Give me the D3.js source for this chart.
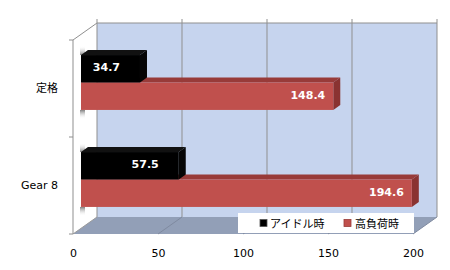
<!DOCTYPE html>
<html><head><meta charset="utf-8">
<script src="https://cdn.jsdelivr.net/npm/d3@7"></script>
<style>html,body{margin:0;padding:0;background:#fff;}svg{display:block;}</style>
</head><body>
<svg id="chart" width="450" height="270"></svg>
<script>
const categories = ["定格", "Gear 8"];
const seriesNames = ["アイドル時", "高負荷時"];
const idleValues = [34.7, 57.5];
const loadValues = [148.4, 194.6];
const xTicks = [0, 50, 100, 150, 200];

const svg = d3.select("#chart");
const fontLatin = "'DejaVu Sans', 'Noto Sans CJK JP', sans-serif";
const fontCJK = "'Noto Sans CJK JP', 'DejaVu Sans', sans-serif";

const x = d3.scaleLinear().domain([0, 200]).range([73, 413]);
const y = d3.scaleBand().domain(categories).range([40, 234]);
const D = {dx: 24, dy: -17};       // wall depth
const S = {dx: 8, dy: -6};         // bar depth position shift
const B = {dx: 7, dy: -5};         // bar thickness
const bh = y.bandwidth() * 0.283;
const ySub = d3.scaleBand().domain(seriesNames)
  .range([y.bandwidth() * 0.155, y.bandwidth() * 0.155 + 2 * bh]);
const colors = {
  "アイドル時": {front: "#000000", top: "#111111", side: "#050505"},
  "高負荷時": {front: "#c0504d", top: "#983b39", side: "#8a3331"}
};

const defs = svg.append("defs");
const gUp = defs.append("linearGradient").attr("id", "shadeUp").attr("x1", "0").attr("x2", "0").attr("y1", "0").attr("y2", "1");
gUp.append("stop").attr("offset", "0").attr("stop-color", "#ffffff").attr("stop-opacity", 0);
gUp.append("stop").attr("offset", "1").attr("stop-color", "#808080");
const gDn = defs.append("linearGradient").attr("id", "shadeDn").attr("x1", "0").attr("x2", "0").attr("y1", "0").attr("y2", "1");
gDn.append("stop").attr("offset", "0").attr("stop-color", "#808080");
gDn.append("stop").attr("offset", "1").attr("stop-color", "#ffffff").attr("stop-opacity", 0);

const [y0, y1] = y.range();
const xb = v => x(v) + D.dx;

// back wall
svg.append("rect").attr("x", xb(0)).attr("y", y0 + D.dy)
  .attr("width", xb(200) - xb(0)).attr("height", y1 - y0)
  .attr("fill", "#c6d4ee");
// floor
svg.append("polygon")
  .attr("points", [[x(0), y1], [xb(0), y1 + D.dy], [xb(200), y1 + D.dy], [x(200), y1]].join(" "))
  .attr("fill", "#929fb7");

const lineCol = "#8f8f8f";
xTicks.forEach(t => {
  svg.append("line").attr("x1", xb(t)).attr("x2", xb(t))
    .attr("y1", y0 + D.dy - 4).attr("y2", y1 + D.dy)
    .attr("stroke", lineCol).attr("stroke-width", 1);
  svg.append("line").attr("x1", xb(t)).attr("y1", y1 + D.dy)
    .attr("x2", x(t)).attr("y2", y1)
    .attr("stroke", t === 0 ? "#9a9a9a" : "#7f8aa0").attr("stroke-width", 1);
});
svg.append("line").attr("x1", xb(0)).attr("x2", xb(200)).attr("y1", y0 + D.dy).attr("y2", y0 + D.dy)
  .attr("stroke", lineCol);
svg.append("line").attr("x1", x(0)).attr("y1", y0).attr("x2", xb(0)).attr("y2", y0 + D.dy).attr("stroke", lineCol);
svg.append("line").attr("x1", x(0)).attr("y1", y0).attr("x2", x(0)).attr("y2", y1).attr("stroke", lineCol);
[y0, y(categories[1]), y1].forEach(v => {
  svg.append("line").attr("x1", x(0) - 4).attr("x2", x(0)).attr("y1", v).attr("y2", v).attr("stroke", lineCol);
});

// bars
categories.forEach((c, i) => {
  const top = y(c) + ySub(seriesNames[0]);
  const bottom = y(c) + ySub(seriesNames[1]) + bh;
  svg.append("rect").attr("x", x(0) + S.dx - 1).attr("y", top - 9)
    .attr("width", 5).attr("height", 9).attr("fill", "url(#shadeUp)");
  svg.append("rect").attr("x", x(0) + S.dx - 1).attr("y", bottom)
    .attr("width", 5).attr("height", 9).attr("fill", "url(#shadeDn)");
  const vals = [idleValues[i], loadValues[i]];
  [1, 0].forEach(si => {
    const s = seriesNames[si];
    const v = vals[si];
    const bx0 = x(0) + S.dx, bx1 = x(v) + S.dx;
    const by0 = y(c) + ySub(s), by1 = by0 + bh;
    const col = colors[s];
    svg.append("polygon")
      .attr("points", [[bx0, by0], [bx0 + B.dx, by0 + B.dy], [bx1 + B.dx, by0 + B.dy], [bx1, by0]].join(" "))
      .attr("fill", col.top);
    svg.append("polygon")
      .attr("points", [[bx1, by0], [bx1 + B.dx, by0 + B.dy], [bx1 + B.dx, by1 + B.dy], [bx1, by1]].join(" "))
      .attr("fill", col.side);
    svg.append("rect").attr("x", bx0).attr("y", by0).attr("width", bx1 - bx0).attr("height", bh)
      .attr("fill", col.front);
    const off = si === 0 ? 20 : 8;
    svg.append("text").attr("x", bx1 - off).attr("y", (by0 + by1) / 2 - 1)
      .attr("text-anchor", "end").attr("dominant-baseline", "central")
      .attr("font-family", fontLatin).attr("font-weight", "bold").attr("font-size", "11px")
      .attr("fill", "#ffffff").text(v.toFixed(1));
  });
});

// x axis labels
const xAxis = svg.append("g").attr("transform", `translate(0,${y1 + 12})`)
  .call(d3.axisBottom(x).tickValues(xTicks).tickSize(0).tickFormat(d3.format("d")));
xAxis.select(".domain").remove();
xAxis.selectAll("text").attr("font-family", fontLatin).attr("font-size", "11px").attr("fill", "#000");

// category labels
const yAxis = svg.append("g").attr("transform", `translate(${x(0)},0)`)
  .call(d3.axisLeft(y).tickSize(0).tickPadding(15));
yAxis.select(".domain").remove();
yAxis.selectAll("text").attr("font-family", fontLatin).attr("font-size", "11px").attr("fill", "#000");

// legend
const lg = svg.append("g");
lg.append("rect").attr("x", 238).attr("y", 213).attr("width", 176).attr("height", 20).attr("fill", "#ffffff");
const legendItems = [
  {name: seriesNames[0], sx: 260, tx: 270, fill: "#000", stroke: "#555"},
  {name: seriesNames[1], sx: 344, tx: 355, fill: "#c0504d", stroke: "#9a3b39"}
];
legendItems.forEach(it => {
  lg.append("rect").attr("x", it.sx).attr("y", 219.5).attr("width", 7).attr("height", 7)
    .attr("fill", it.fill).attr("stroke", it.stroke).attr("stroke-width", 0.8);
  lg.append("text").attr("x", it.tx).attr("y", 223).attr("dominant-baseline", "central")
    .attr("font-family", fontCJK).attr("font-size", "11px").attr("fill", "#000").text(it.name);
});
</script>
</body></html>
